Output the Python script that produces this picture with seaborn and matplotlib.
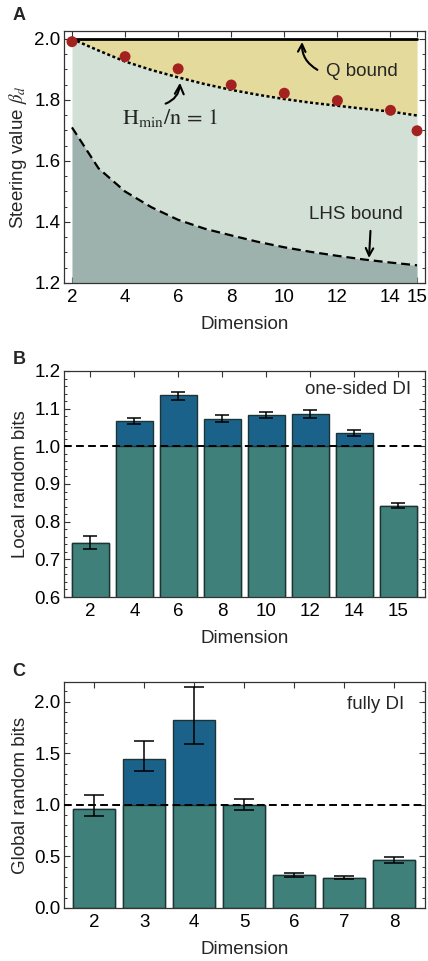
import numpy as np
import matplotlib
matplotlib.use('Agg')
import matplotlib.pyplot as plt
import seaborn as sns
from matplotlib.ticker import MultipleLocator, FixedLocator

# ---------------- data ----------------
# Panel A
dims_a = [2, 3, 4, 5, 6, 7, 8, 9, 10, 11, 12, 13, 14, 15]
hmin_curve = [2.0, 1.962, 1.926, 1.898, 1.874, 1.852, 1.833, 1.817, 1.803, 1.791, 1.781, 1.771, 1.762, 1.749]
lhs_curve = [1.710, 1.576, 1.500, 1.448, 1.407, 1.378, 1.356, 1.335, 1.317, 1.302, 1.289, 1.277, 1.267, 1.258]
q_bound = 2.0
meas_dims = [2, 4, 6, 8, 10, 12, 14, 15]
meas_beta = [1.991, 1.942, 1.902, 1.849, 1.822, 1.798, 1.766, 1.699]
ticks_a = [2, 4, 6, 8, 10, 12, 14, 15]

# Panel B
dims_b = ['2', '4', '6', '8', '10', '12', '14', '15']
local_bits = [0.743, 1.067, 1.135, 1.073, 1.082, 1.085, 1.035, 0.842]
local_lo = [0.727, 1.060, 1.124, 1.065, 1.075, 1.074, 1.028, 0.835]
local_hi = [0.761, 1.074, 1.145, 1.082, 1.090, 1.097, 1.043, 0.849]

# Panel C
dims_c = ['2', '3', '4', '5', '6', '7', '8']
global_bits = [0.964, 1.443, 1.825, 1.000, 0.324, 0.294, 0.466]
global_lo = [0.887, 1.330, 1.592, 0.945, 0.304, 0.278, 0.437]
global_hi = [1.097, 1.615, 2.142, 1.058, 0.343, 0.311, 0.495]

threshold = 1.0

# ---------------- style ----------------
sns.set_theme(style='ticks')
plt.rcParams['font.family'] = ['Liberation Sans', 'DejaVu Sans']
plt.rcParams['mathtext.fontset'] = 'stix'
plt.rcParams['axes.edgecolor'] = '#333333'
plt.rcParams['axes.linewidth'] = 0.9

YELLOW = '#e3da9b'
LIGHT = '#d3e0d5'
DARK = '#9eb2ad'
RED = '#a3221f'
TEAL = '#3f807a'
BLUE = '#1b628a'
EDGE = '#1c3434'
FS = 13.5

fig = plt.figure(figsize=(4.28, 9.61), dpi=100)
L, R = 64 / 428, 425 / 428

def axes_px(top, bottom):
    return fig.add_axes([L, 1 - bottom / 961, R - L, (bottom - top) / 961])

def style_ticks(ax):
    ax.tick_params(axis='both', which='major', direction='in', length=4, width=0.8,
                   top=True, right=True, labelsize=FS, colors='#333333',
                   labelcolor='black')
    ax.tick_params(axis='x', which='major', pad=4.5)
    ax.tick_params(axis='y', which='major', pad=2.5)
    ax.tick_params(axis='both', which='minor', direction='in', length=2.5, width=0.7,
                   top=True, right=True, colors='#333333')

# ---------------- Panel A ----------------
axA = axes_px(31, 283)
ymin_a = 1.2
axA.fill_between(dims_a, hmin_curve, q_bound, color=YELLOW, lw=0)
axA.fill_between(dims_a, lhs_curve, hmin_curve, color=LIGHT, lw=0)
axA.fill_between(dims_a, ymin_a, lhs_curve, color=DARK, lw=0)
sns.lineplot(x=[dims_a[0], dims_a[-1]], y=[q_bound, q_bound], color='black', lw=2, ax=axA)
sns.lineplot(x=dims_a, y=hmin_curve, color='black', lw=1.8, ax=axA)
axA.lines[-1].set_linestyle((0, (1.2, 1.0)))
sns.lineplot(x=dims_a, y=lhs_curve, color='black', lw=1.6, ax=axA)
axA.lines[-1].set_linestyle((0, (4, 2.2)))
sns.scatterplot(x=meas_dims, y=meas_beta, color=RED, s=62, edgecolor='none',
                zorder=5, clip_on=False, ax=axA)
axA.set_xlim(1.7, 15.3)
axA.set_ylim(ymin_a, 2.026)
axA.xaxis.set_major_locator(FixedLocator(ticks_a))
axA.yaxis.set_major_locator(MultipleLocator(0.2))
axA.yaxis.set_minor_locator(MultipleLocator(0.05))
axA.set_yticklabels([f'{v:.1f}' for v in axA.get_yticks()])
style_ticks(axA)
axA.set_xlabel('Dimension', fontsize=FS, labelpad=7)
axA.set_ylabel(r'Steering value $\beta_d$', fontsize=FS, labelpad=4)

axA.annotate('Q bound', xy=(10.67, 1.99), xytext=(11.57, 1.892), fontsize=FS,
             va='center', ha='left',
             arrowprops=dict(arrowstyle='->', color='black', lw=1.5,
                             shrinkA=0, shrinkB=0, connectionstyle='arc3,rad=-0.3',
                             relpos=(-0.12, 0.62)))
axA.annotate(r'$\mathrm{H}_{\mathrm{min}}/\mathrm{n}\,=\,1$', xy=(6.07, 1.856),
             xytext=(3.88, 1.741), fontsize=16, va='center', ha='left',
             arrowprops=dict(arrowstyle='->', color='black', lw=1.5,
                             shrinkA=0, shrinkB=0, connectionstyle='arc3,rad=0.35',
                             relpos=(0.42, 1.1)))
axA.annotate('LHS bound', xy=(13.19, 1.282), xytext=(10.93, 1.423), fontsize=FS,
             va='center', ha='left',
             arrowprops=dict(arrowstyle='->', color='black', lw=1.5,
                             shrinkA=3, shrinkB=0, relpos=(0.66, 0.0)))

# ---------------- bar panels ----------------
def bar_panel(ax, cats, vals, lo, hi, ylim, major, minor, label, tag, tag_xy, capsize):
    vals = np.asarray(vals)
    sns.barplot(x=cats, y=vals, color=BLUE, width=0.84, saturation=1,
                edgecolor=EDGE, linewidth=1, errorbar=None, ax=ax)
    sns.barplot(x=cats, y=np.minimum(vals, threshold), color=TEAL, width=0.84,
                saturation=1, edgecolor=EDGE, linewidth=1, errorbar=None, ax=ax)
    pos = np.arange(len(cats))
    yerr = [vals - np.asarray(lo), np.asarray(hi) - vals]
    ax.errorbar(pos, vals, yerr=yerr, fmt='none', ecolor='black', elinewidth=1.1,
                capsize=capsize, capthick=1.1, zorder=6)
    ax.axhline(threshold, color='black', lw=1.4, ls=(0, (4, 2.2)), zorder=7)
    n = len(cats)
    ax.set_xlim(-0.6, n - 1 + 0.61)
    ax.set_ylim(*ylim)
    ax.yaxis.set_major_locator(MultipleLocator(major))
    ax.yaxis.set_minor_locator(MultipleLocator(minor))
    ax.set_yticklabels([f'{v:.1f}' for v in ax.get_yticks()])
    style_ticks(ax)
    ax.set_xlabel('Dimension', fontsize=FS, labelpad=7)
    ax.set_ylabel(label, fontsize=FS, labelpad=4)
    ax.text(tag_xy[0], tag_xy[1], tag, transform=ax.transAxes,
            ha='right', va='center', fontsize=FS)

axB = axes_px(371, 597)
bar_panel(axB, dims_b, local_bits, local_lo, local_hi, (0.6, 1.2), 0.1, 0.02,
          'Local random bits', 'one-sided DI', (0.962, 0.92), 4.8)

axC = axes_px(682, 908)
bar_panel(axC, dims_c, global_bits, global_lo, global_hi, (0.0, 2.19), 0.5, 0.1,
          'Global random bits', 'fully DI', (0.942, 0.9), 7)

# panel letters
for lab, y in [('A', 16), ('B', 360), ('C', 672)]:
    fig.text(19 / 428, 1 - y / 961, lab, fontsize=13, fontweight='bold',
             ha='center', va='center')

fig.savefig('out.png', dpi=100)
